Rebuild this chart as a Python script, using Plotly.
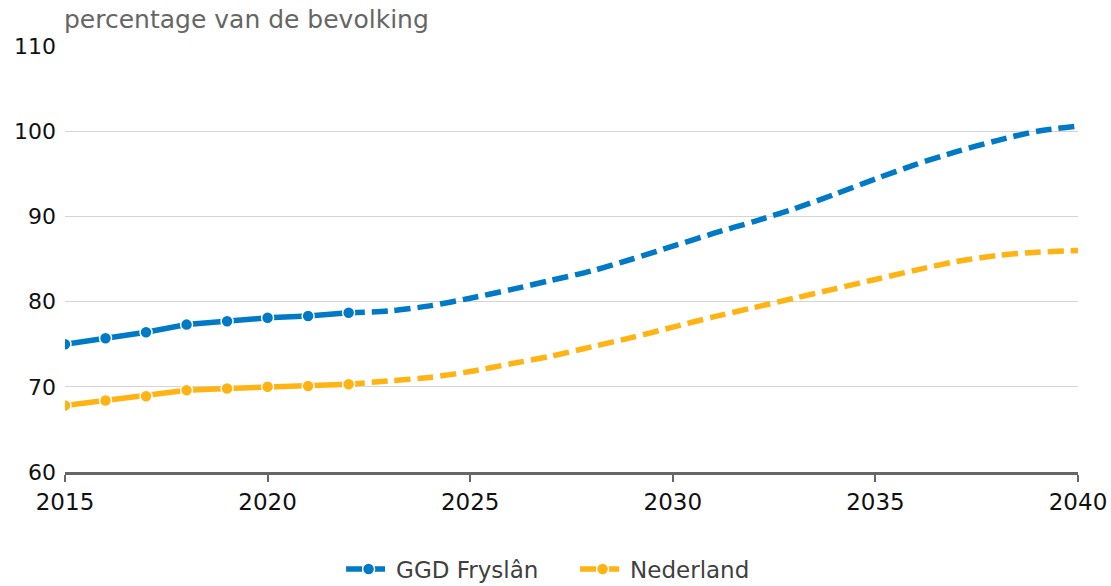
import plotly.graph_objects as go

# Observed years (solid line with markers)
years_hist = [2015, 2016, 2017, 2018, 2019, 2020, 2021, 2022]
ggd_hist = [75.0, 75.7, 76.4, 77.3, 77.7, 78.1, 78.3, 78.7]
nl_hist = [67.8, 68.4, 68.9, 69.6, 69.8, 70.0, 70.1, 70.3]

# Projected years (dashed line)
years_proj = list(range(2022, 2041))
ggd_proj = [78.7, 78.9, 79.5, 80.4, 81.4, 82.5, 83.6, 85.0, 86.5, 88.0,
            89.4, 90.9, 92.6, 94.4, 96.1, 97.6, 98.9, 100.0, 100.6]
nl_proj = [70.3, 70.7, 71.1, 71.8, 72.7, 73.6, 74.7, 75.8, 77.0, 78.2,
           79.3, 80.4, 81.5, 82.6, 83.7, 84.7, 85.4, 85.8, 86.0]

series_names = ["GGD Fryslân", "Nederland"]
x_ticks = [2015, 2020, 2025, 2030, 2035, 2040]
y_ticks = [60, 70, 80, 90, 100, 110]

BLUE = "#007AC6"
ORANGE = "#FFB414"
FONT = "Verdana, DejaVu Sans, sans-serif"
DASH = "16px,7px"
LW = 5.5

fig = go.Figure()

for name, color, hist, proj in [
    (series_names[0], BLUE, ggd_hist, ggd_proj),
    (series_names[1], ORANGE, nl_hist, nl_proj),
]:
    fig.add_trace(go.Scatter(
        x=years_proj, y=proj, mode="lines", showlegend=False,
        line=dict(color=color, width=LW, dash=DASH, shape="spline", smoothing=0.8),
        hoverinfo="skip",
    ))
    fig.add_trace(go.Scatter(
        x=years_hist, y=hist, mode="lines+markers", showlegend=False,
        line=dict(color=color, width=LW),
        marker=dict(size=12, color=color, line=dict(color="white", width=1.5)),
    ))
    # legend entry: dashed line with a marker
    fig.add_trace(go.Scatter(
        x=[None], y=[None], mode="lines+markers", name=name,
        line=dict(color=color, width=LW, dash=DASH),
        marker=dict(size=12, color=color, line=dict(color="white", width=1.5)),
    ))

fig.update_layout(
    width=1111, height=586,
    margin=dict(l=65, r=33, t=46, b=114),
    plot_bgcolor="white", paper_bgcolor="white",
    font=dict(family=FONT, size=22, color="#111111"),
    showlegend=True,
    legend=dict(
        orientation="h", xref="container", yref="container",
        x=0.307, xanchor="left", y=0.029, yanchor="middle",
        font=dict(size=23, color="#404040"),
        itemwidth=45,
        entrywidth=174, entrywidthmode="pixels",
        traceorder="normal",
    ),
    annotations=[dict(
        text="percentage van de bevolking", xref="paper", yref="paper",
        x=0, y=1, xanchor="left", yanchor="bottom", yshift=10, xshift=-3,
        showarrow=False,
        font=dict(family=FONT, size=25, color="#666666"),
    )],
)

fig.update_xaxes(
    range=[2015, 2040], tickvals=x_ticks, ticktext=[str(v) for v in x_ticks],
    showgrid=False, zeroline=False, automargin=False,
    showline=True, linecolor="#666666", linewidth=3,
    ticks="outside", ticklen=7, tickwidth=2, tickcolor="#666666",
    tickfont=dict(family=FONT, size=23, color="#111111"),
)
fig.update_yaxes(
    range=[60, 110], tickvals=y_ticks, ticktext=[str(v) for v in y_ticks],
    showgrid=True, gridcolor="#D4D4D4", gridwidth=1, zeroline=False,
    showline=False, ticks="", ticklabelstandoff=8, automargin=False,
    tickfont=dict(family=FONT, size=22, color="#111111"),
)

fig.write_html("out.html")
